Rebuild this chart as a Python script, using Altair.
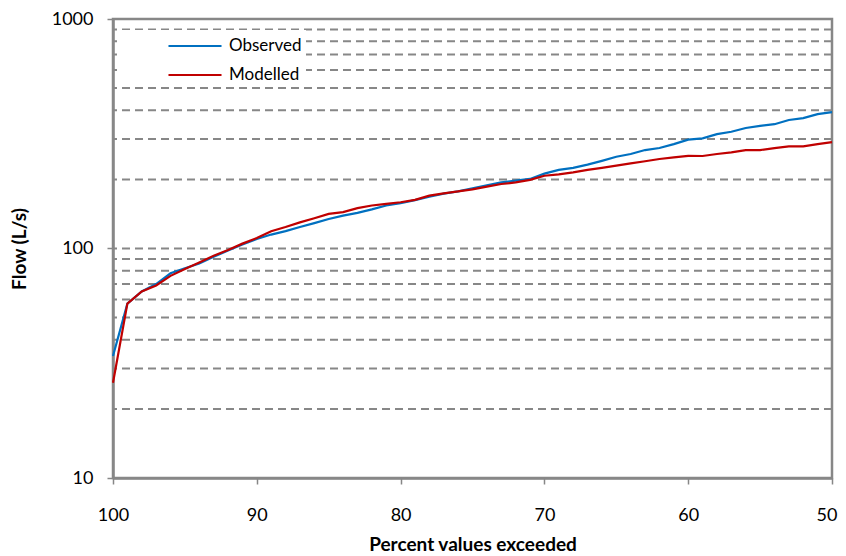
import altair as alt
import pandas as pd

pct = list(range(100, 49, -1))
observed = [34, 57.5, 65, 70, 78, 82, 86, 92, 98, 104,
            110, 115, 119, 124, 129, 134.5, 139, 143, 148, 154,
            157.5, 162.5, 168, 173.5, 177.5, 183, 188.5, 194, 197.5, 201,
            212, 220, 224.5, 232, 241, 251, 258, 268.5, 274, 285,
            298, 302, 315, 322.5, 335, 342.5, 348, 363, 370, 385,
            393]
modelled = [26, 57.5, 65, 69, 76, 81.5, 87, 93, 98.5, 105,
            111, 119, 124, 130, 135.5, 141.5, 144, 150, 154, 156.5,
            159, 163, 170, 174, 177.5, 181, 186, 191, 194, 199,
            207.5, 210.5, 214.5, 220, 224.5, 229.5, 235, 240, 245.5, 249.5,
            253.5, 253, 258, 262.5, 268.5, 268.5, 274, 278.5, 278.5, 285,
            291]
series_names = ["Observed", "Modelled"]
series_colors = ["#0070C0", "#C00000"]
x_ticks = [100, 90, 80, 70, 60, 50]
y_ticks = [10, 100, 1000]
grid_values = [20, 30, 40, 50, 60, 70, 80, 90, 100,
               200, 300, 400, 500, 600, 700, 800, 900]

df = pd.DataFrame({
    "pct": pct * 2,
    "flow": observed + modelled,
    "series": ["Observed"] * len(pct) + ["Modelled"] * len(pct),
})
grid_df = pd.DataFrame({"g": grid_values})

FONT = "Lato"
GRAY = "#878787"

xscale = alt.Scale(domain=[50, 100], reverse=True, nice=False, zero=False)
yscale = alt.Scale(type="log", domain=[10, 1000], nice=False)

y_axis = alt.Axis(values=y_ticks, format="d", grid=False,
                  title="Flow (L/s)", labelPadding=14, labelFlush=False,
                  titlePadding=22, tickSize=6)

grid = alt.Chart(grid_df).mark_rule(
    color=GRAY, strokeWidth=2, strokeDash=[8, 5]
).encode(
    y=alt.Y("g:Q", scale=yscale, axis=y_axis, title="Flow (L/s)"),
)

lines = alt.Chart(df).mark_line(strokeWidth=2.2).encode(
    x=alt.X("pct:Q", scale=xscale,
            axis=alt.Axis(values=x_ticks, format="d", grid=False,
                          title="Percent values exceeded",
                          labelPadding=22, labelFlush=False,
                          labelAlign={"condition": {"test": "datum.value == 50",
                                                    "value": "right"},
                                      "value": "center"},
                          labelOffset={"condition": {"test": "datum.value == 50",
                                                     "value": 5},
                                       "value": 0},
                          titlePadding=11, tickSize=6)),
    y=alt.Y("flow:Q", scale=yscale, axis=y_axis, title="Flow (L/s)"),
    color=alt.Color("series:N",
                    scale=alt.Scale(domain=series_names, range=series_colors),
                    sort=series_names,
                    legend=alt.Legend(title=None, orient="none",
                                      legendX=7, legendY=11,
                                      symbolType="M-2.5,0H2.5",
                                      symbolSize=450,
                                      symbolStrokeWidth=2,
                                      symbolOffset=59,
                                      labelOffset=22,
                                      labelFont=FONT, labelFontSize=17,
                                      labelColor="#000000",
                                      rowPadding=9,
                                      fillColor="white",
                                      padding=4)),
    detail="series:N",
)

chart = alt.layer(grid, lines).properties(
    width=719, height=459,
    autosize=alt.AutoSizeParams(type="none"),
    padding={"left": 105, "top": 11, "right": 6, "bottom": 76},
).configure_view(
    stroke=GRAY, strokeWidth=2.5
).configure_axis(
    domainColor=GRAY, domainWidth=2.5,
    tickColor=GRAY, tickWidth=1.5,
    labelFont=FONT, labelFontSize=18, labelColor="#000000",
    titleFont=FONT, titleFontSize=19, titleFontWeight="bold",
    titleColor="#000000",
)

chart.save("out.html", embed_options={"renderer": "svg", "actions": False})
